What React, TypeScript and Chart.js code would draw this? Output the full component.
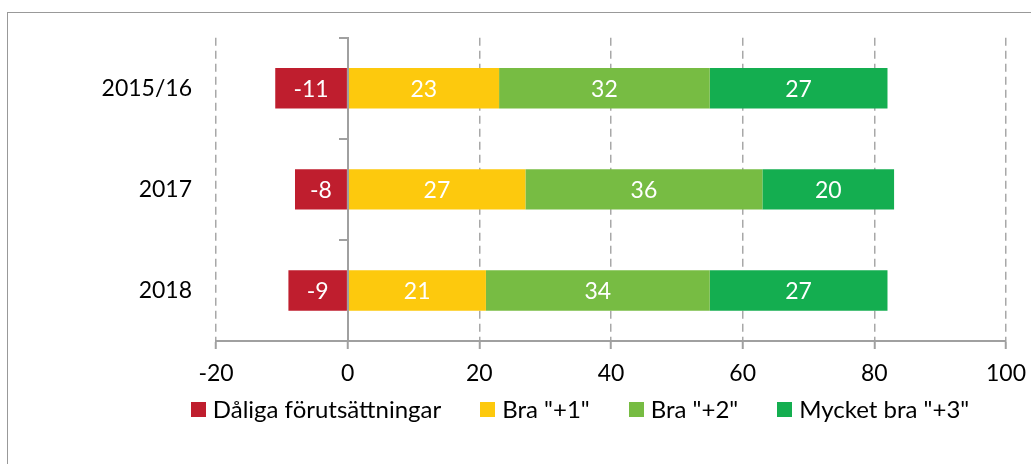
import React, { useEffect, useRef } from "react";
import { Chart, registerables } from "chart.js";

Chart.register(...registerables);

const categories = ["2015/16", "2017", "2018"];
const seriesNames = ["Dåliga förutsättningar", 'Bra "+1"', 'Bra "+2"', 'Mycket bra "+3"'];
const daliga = [-11, -8, -9];
const bra1 = [23, 27, 21];
const bra2 = [32, 36, 34];
const mycketBra3 = [27, 20, 27];
const xTicks = [-20, 0, 20, 40, 60, 80, 100];
const seriesColors = ["#BF1E2E", "#FDC90D", "#77BC43", "#14AE50"];

const FONT = "Lato";
const FONT_SIZE = 23;
const LEGEND_FONT_SIZE = 24;
const GRID = "#a8a8a8";
const AXIS = "#a0a0a0";

const valueLabelPlugin = {
  id: "valueLabels",
  afterDatasetsDraw(chart: any) {
    const ctx = chart.ctx;
    ctx.save();
    ctx.font = `${FONT_SIZE}px ${FONT}`;
    ctx.fillStyle = "#ffffff";
    ctx.textAlign = "center";
    ctx.textBaseline = "middle";
    chart.data.datasets.forEach((ds: any, i: number) => {
      const meta = chart.getDatasetMeta(i);
      meta.data.forEach((el: any, j: number) => {
        const { x, y, base } = el.getProps(["x", "y", "base"], true);
        ctx.fillText(String(ds.data[j]), (x + base) / 2, y + 1);
      });
    });
    ctx.restore();
  },
};

const bottomLegendPlugin = {
  id: "bottomLegend",
  afterDraw(chart: any) {
    const ctx = chart.ctx;
    const area = chart.chartArea;
    ctx.save();
    ctx.font = `${LEGEND_FONT_SIZE}px ${FONT}`;
    ctx.textAlign = "left";
    ctx.textBaseline = "middle";
    const box = 15;
    const gap = 7;
    const spacing = 39;
    const items = chart.data.datasets.map((ds: any) => ({
      text: ds.label,
      color: ds.backgroundColor,
      w: ctx.measureText(ds.label).width,
    }));
    const total =
      items.reduce((s: number, it: any) => s + box + gap + it.w, 0) + spacing * (items.length - 1);
    let x = (area.left + area.right) / 2 - 31 - total / 2;
    const cy = area.bottom + 68.5;
    items.forEach((it: any) => {
      ctx.fillStyle = it.color;
      ctx.fillRect(Math.round(x), Math.round(cy - box / 2), box, box);
      ctx.fillStyle = "#000000";
      ctx.fillText(it.text, x + box + gap, cy + 1);
      x += box + gap + it.w + spacing;
    });
    ctx.restore();
  },
};

export default function App() {
  const canvasRef = useRef<HTMLCanvasElement | null>(null);

  useEffect(() => {
    if (!canvasRef.current) return;
    const seriesData = [daliga, bra1, bra2, mycketBra3];
    const chart = new Chart(canvasRef.current, {
      type: "bar",
      data: {
        labels: categories,
        datasets: seriesNames.map((name, i) => ({
          label: name,
          data: seriesData[i],
          backgroundColor: seriesColors[i],
          borderWidth: 0,
          barPercentage: 0.4,
          categoryPercentage: 1,
        })),
      },
      options: {
        indexAxis: "y",
        responsive: false,
        maintainAspectRatio: false,
        animation: false,
        devicePixelRatio: 1,
        layout: { padding: { top: 33, left: 0, right: 0, bottom: 63 } },
        plugins: {
          legend: { display: false },
          tooltip: { enabled: false },
        },
        scales: {
          x: {
            type: "linear",
            stacked: true,
            position: "bottom",
            min: xTicks[0],
            max: xTicks[xTicks.length - 1],
            afterBuildTicks: (s: any) => {
              s.ticks = xTicks.map((v) => ({ value: v }));
            },
            afterFit: (s: any) => {
              s.height = 60;
            },
            grid: {
              color: (c: any) => (c.tick && c.tick.value === 0 ? "rgba(0,0,0,0)" : GRID),
              lineWidth: 1.5,
              tickLength: 8,
              tickColor: AXIS,
              tickWidth: 2,
              tickBorderDash: [],
            },
            border: { display: true, color: AXIS, width: 2, dash: [8, 5] },
            ticks: {
              font: { family: FONT, size: FONT_SIZE },
              color: "#000000",
              padding: 11,
              maxRotation: 0,
              autoSkip: false,
            },
          },
          y: {
            type: "category",
            stacked: true,
            position: "left",
            afterFit: (s: any) => {
              s.width = 216;
            },
            grid: { display: false, drawTicks: false },
            border: { display: false },
            ticks: {
              font: { family: FONT, size: FONT_SIZE },
              color: "#000000",
              padding: 24,
            },
          },
          y2: {
            type: "category",
            axis: "y",
            position: { x: 0 },
            offset: true,
            grid: {
              offset: true,
              drawOnChartArea: false,
              drawTicks: true,
              tickLength: 8,
              color: AXIS,
              lineWidth: 2,
            },
            border: { display: true, color: AXIS, width: 2, z: 1 },
            ticks: { display: false },
          },
        } as any,
      },
      plugins: [valueLabelPlugin, bottomLegendPlugin],
    } as any);
    return () => chart.destroy();
  }, []);

  return (
    <div style={{ position: "fixed", left: 0, top: 0, width: 1031, height: 464, background: "#ffffff", overflow: "hidden" }}>
      <div
        style={{
          position: "absolute",
          left: 7,
          top: 12,
          width: 1100,
          height: 500,
          borderLeft: "1px solid #999999",
          borderTop: "1px solid #999999",
        }}
      />
      <canvas
        ref={canvasRef}
        width={1037}
        height={464}
        style={{ position: "absolute", left: 0, top: 0, width: 1037, height: 464 }}
      />
    </div>
  );
}
